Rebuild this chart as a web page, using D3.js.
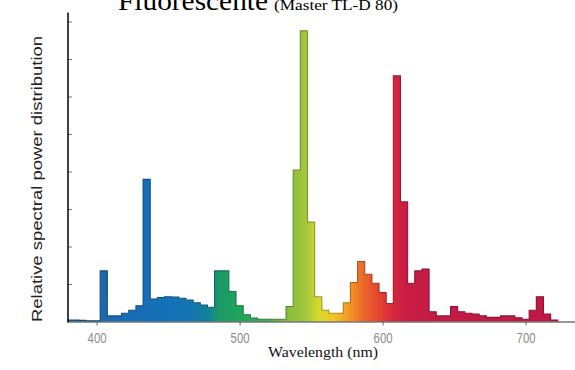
<!DOCTYPE html>
<html>
<head>
<meta charset="utf-8">
<script src="https://cdn.jsdelivr.net/npm/d3@7"></script>
<style>
  html, body { margin: 0; padding: 0; background: #fff; }
  svg { display: block; }
</style>
</head>
<body>
<svg id="chart" width="575" height="370"></svg>
<script>
// Spectral power distribution, 5 nm bins (bin centres in nm)
const wavelengths = [
  380, 385, 390, 395, 400, 405, 410, 415, 420, 425, 430, 435, 440, 445, 450,
  455, 460, 465, 470, 475, 480, 485, 490, 495, 500, 505, 510, 515, 520, 525,
  530, 535, 540, 545, 550, 555, 560, 565, 570, 575, 580, 585, 590, 595, 600,
  605, 610, 615, 620, 625, 630, 635, 640, 645, 650, 655, 660, 665, 670, 675,
  680, 685, 690, 695, 700, 705, 710, 715, 720
];
const power = [
  0.04, 0.04, 0.03, 0.02, 0.02, 1.35, 0.15, 0.15, 0.22, 0.30, 0.42, 3.79, 0.60, 0.64, 0.66,
  0.65, 0.62, 0.57, 0.50, 0.44, 0.38, 1.35, 1.35, 0.80, 0.42, 0.18, 0.09, 0.06, 0.06, 0.06,
  0.06, 0.40, 4.04, 7.75, 2.65, 0.66, 0.30, 0.22, 0.22, 0.50, 1.04, 1.60, 1.26, 1.02, 0.77,
  0.48, 6.55, 3.19, 1.02, 1.35, 1.40, 0.26, 0.15, 0.15, 0.40, 0.26, 0.22, 0.20, 0.15, 0.11,
  0.11, 0.15, 0.15, 0.10, 0.06, 0.30, 0.66, 0.20, 0.04
];
const binWidth = 5;

// Tick positions
const xTicks = [400, 500, 600, 700];
const yTicks = [1, 2, 3, 4, 5, 6, 7, 8];

// Colour of light along the spectrum
const spectrumNm = [380, 400, 440, 465, 478, 486, 500, 520, 536, 546, 556, 566, 576, 586, 596, 606, 616, 650, 735];
const spectrumColor = [
  "#1f5f9f", "#1b68ad", "#1570b8", "#1474b4", "#12809a", "#1a9a66", "#1fa55a", "#3fae48",
  "#8cc03a", "#a2c63c", "#dcd82c", "#f2c424", "#f39a24", "#ec6a2a", "#e6482e", "#d92a3c",
  "#c81c44", "#c21a44", "#bf1a44"
];

const svg = d3.select("#chart");
const x = d3.scaleLinear().domain([380, 735]).range([68, 575.65]).clamp(true);
const y = d3.scaleLinear().domain([0, 8.24]).range([321.5, 12.5]);
const hue = d3.scaleLinear().domain(spectrumNm).range(spectrumColor).interpolate(d3.interpolateRgb);

const defs = svg.append("defs");
function spectrumGradient(id, darken) {
  const g = defs.append("linearGradient")
    .attr("id", id)
    .attr("gradientUnits", "userSpaceOnUse")
    .attr("x1", x(380)).attr("x2", x(735))
    .attr("y1", 0).attr("y2", 0);
  const nmSteps = d3.range(380, 736, 2);
  g.selectAll("stop").data(nmSteps).join("stop")
    .attr("offset", d => (x(d) - x(380)) / (x(735) - x(380)))
    .attr("stop-color", d => darken ? d3.color(hue(d)).darker(darken).formatHex() : hue(d));
}
spectrumGradient("spec", 0);
spectrumGradient("specDark", 0.9);

const bins = wavelengths.map((w, i) => ({ lo: w - binWidth / 2, hi: w + binWidth / 2, v: power[i] }));

// Step profile of the histogram (left and right edge of every bin)
const steps = [];
bins.forEach(d => { steps.push([d.lo, d.v]); steps.push([d.hi, d.v]); });

// Filled distribution
svg.append("path")
  .attr("d", d3.area().x(d => x(d[0])).y0(y(0)).y1(d => y(d[1]))(steps))
  .attr("fill", "url(#spec)");

// Stepped outline of the distribution
const outline = [[bins[0].lo, 0], ...steps, [bins[bins.length - 1].hi, 0]];
svg.append("path")
  .attr("d", d3.line().x(d => x(d[0])).y(d => y(d[1]))(outline))
  .attr("fill", "none")
  .attr("stroke", "url(#specDark)")
  .attr("stroke-width", 1.1)
  .attr("stroke-linejoin", "miter");

// X axis
const xAxis = svg.append("g")
  .attr("transform", `translate(0,${y(0)})`)
  .call(d3.axisBottom(x).tickValues(xTicks).tickSize(4).tickPadding(8).tickFormat(d3.format("d")));
xAxis.select(".domain").attr("stroke", "#333").attr("stroke-width", 1).attr("d", `M${x(380)},0.5H575`);
xAxis.selectAll(".tick line").attr("stroke", "#666");
xAxis.selectAll(".tick text")
  .attr("fill", "#8c8c8c")
  .attr("font-family", "Liberation Sans, Arial, sans-serif")
  .attr("font-size", 14)
  .attr("textLength", 19)
  .attr("lengthAdjust", "spacingAndGlyphs");

// Y axis
const yAxis = svg.append("g")
  .attr("transform", `translate(${x(380)},0)`)
  .call(d3.axisRight(y).tickValues(yTicks).tickSize(4).tickFormat(""));
yAxis.select(".domain").remove();
yAxis.selectAll(".tick line").attr("stroke", "#777");
svg.append("line")
  .attr("x1", x(380)).attr("x2", x(380))
  .attr("y1", y(8.24)).attr("y2", y(0) + 1)
  .attr("stroke", "#111").attr("stroke-width", 1.6);

// Axis titles
svg.append("text")
  .attr("transform", "translate(42,179) rotate(-90)")
  .attr("text-anchor", "middle")
  .attr("font-family", "Liberation Sans, Arial, sans-serif")
  .attr("font-size", 14)
  .attr("fill", "#222")
  .attr("textLength", 286)
  .attr("lengthAdjust", "spacingAndGlyphs")
  .text("Relative spectral power distribution");

svg.append("text")
  .attr("x", 323).attr("y", 357)
  .attr("text-anchor", "middle")
  .attr("font-family", "Liberation Serif, Times New Roman, serif")
  .attr("font-size", 14)
  .attr("fill", "#111")
  .attr("textLength", 110)
  .attr("lengthAdjust", "spacingAndGlyphs")
  .text("Wavelength (nm)");

// Chart title, running off the top edge
const title = svg.append("text")
  .attr("y", 10)
  .attr("font-family", "Liberation Serif, Times New Roman, serif")
  .attr("fill", "#000");
title.append("tspan")
  .attr("x", 118)
  .attr("font-size", 28)
  .attr("textLength", 150)
  .attr("lengthAdjust", "spacingAndGlyphs")
  .text("Fluorescente");
title.append("tspan")
  .attr("x", 274)
  .attr("font-size", 15)
  .attr("textLength", 124)
  .attr("lengthAdjust", "spacingAndGlyphs")
  .text("(Master TL-D 80)");
</script>
</body>
</html>
